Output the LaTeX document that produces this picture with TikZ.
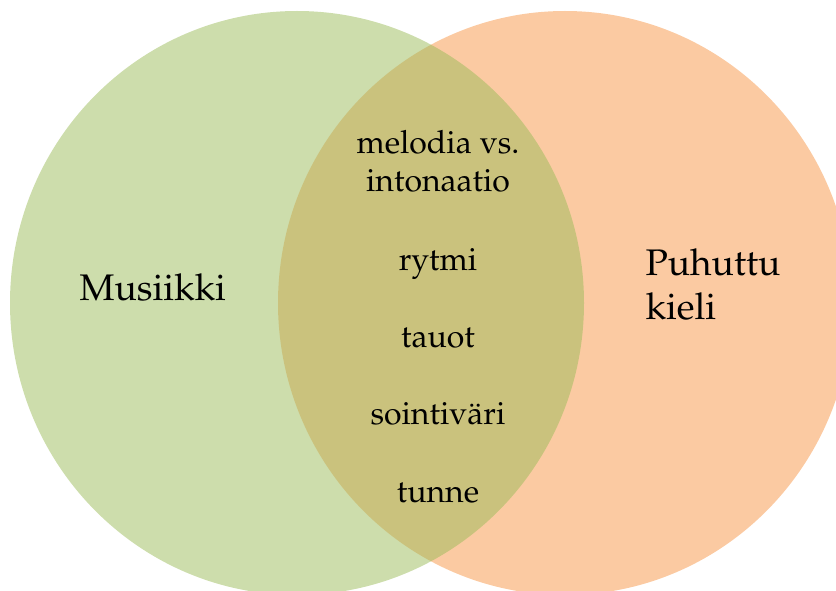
\documentclass[tikz,border=0pt]{standalone}
\usepackage[T1]{fontenc}
\usepackage{mathpazo}
\definecolor{musagreen}{HTML}{9BBB59}
\definecolor{kieliorange}{HTML}{F79646}
\begin{document}
\begin{tikzpicture}[x=1pt,y=-1pt,
    setfill/.style={fill opacity=0.5},
    bigword/.style={anchor=base west,align=left,font=\fontsize{37}{44}\selectfont},
    midword/.style={anchor=base,align=center,font=\fontsize{32}{38}\selectfont}]
    \useasboundingbox (0,0) rectangle (836,591);
    \clip (0,0) rectangle (836,591);
    \coordinate (oc) at (565,303);
    \coordinate (gc) at (297,303);
    \fill[kieliorange,setfill] (oc) ellipse [x radius=287,y radius=292];
    \fill[musagreen,setfill] (gc) ellipse [x radius=287,y radius=292];
    \node[bigword] (musiikki) at (76,300) {Musiikki};
    \node[bigword] (puhuttu) at (642,319) {Puhuttu\\kieli};
    \node[midword] (melodia) at (438,192) {melodia vs.\\intonaatio};
    \node[midword] (rytmi) at (438,270) {rytmi};
    \node[midword] (tauot) at (438,347) {tauot};
    \node[midword] (sointi) at (438,424) {sointiv\"ari};
    \node[midword] (tunne) at (438,502) {tunne};
\end{tikzpicture}
\end{document}
